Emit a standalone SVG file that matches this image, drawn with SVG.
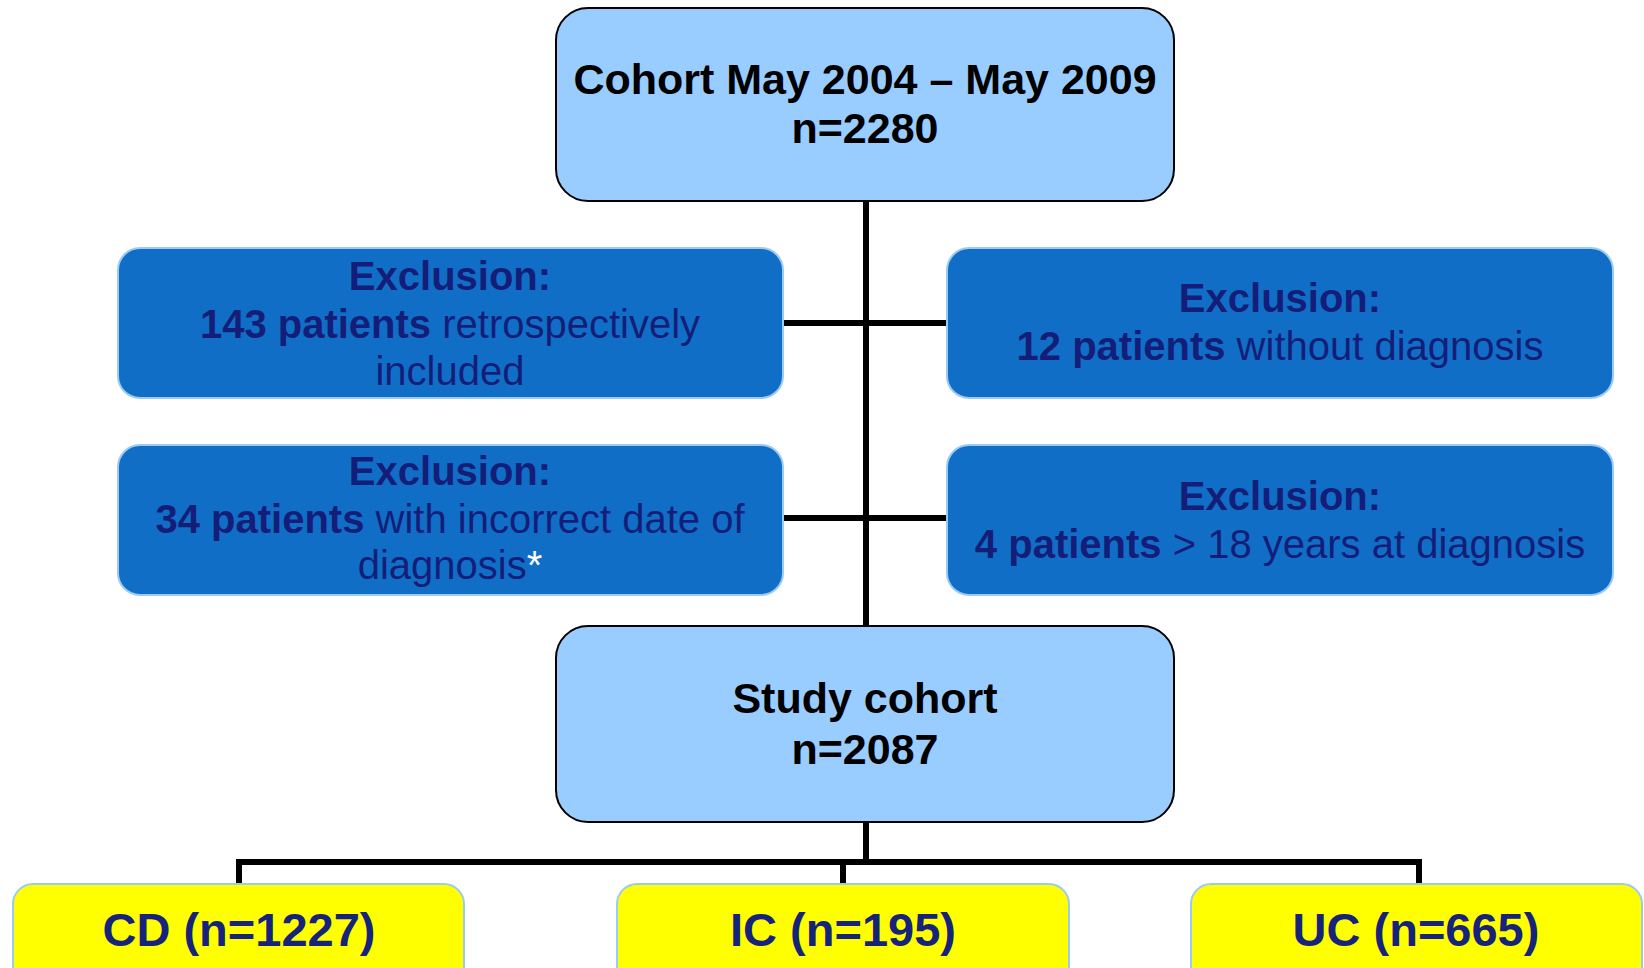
<svg xmlns="http://www.w3.org/2000/svg" width="1644" height="968" viewBox="0 0 1644 968">
<style>
  .main { fill: #99CCFF; stroke: #000000; stroke-width: 2; }
  .excl { fill: #116EC6; stroke: #9CCBF2; stroke-width: 2; }
  .grp { fill: #FFFF00; stroke: #9CCBF2; stroke-width: 2; }
  .t { font-family: "Liberation Sans", Arial, sans-serif; text-anchor: middle; }
  .tm { font-size: 43px; font-weight: bold; fill: #000000; }
  .te { font-size: 40px; fill: #141E78; }
  .tg { font-size: 47px; font-weight: bold; fill: #16237A; }
  .b { font-weight: bold; }
  .conn { stroke: #000000; stroke-width: 6; fill: none; }
</style>
<rect x="0" y="0" width="1644" height="968" fill="#FFFFFF"/>
<g id="connectors">
  <line class="conn" x1="866" y1="201" x2="866" y2="626"/>
  <line class="conn" x1="783" y1="323" x2="947" y2="323"/>
  <line class="conn" x1="783" y1="518" x2="947" y2="518"/>
  <line class="conn" x1="866" y1="822" x2="866" y2="862"/>
  <polyline class="conn" points="239,884 239,862 1419,862 1419,884"/>
  <line class="conn" x1="843" y1="862" x2="843" y2="884"/>
</g>
<g id="cohort">
  <rect class="main" x="556" y="8" width="618" height="193" rx="32"/>
  <text class="t tm" x="865" y="94">Cohort May 2004 – May 2009</text>
  <text class="t tm" x="865" y="143">n=2280</text>
</g>
<g id="excl-retro">
  <rect class="excl" x="118" y="248" width="665" height="150" rx="22"/>
  <text class="t te" x="450" y="290"><tspan class="b">Exclusion:</tspan></text>
  <text class="t te" x="450" y="338"><tspan class="b">143 patients</tspan> retrospectively</text>
  <text class="t te" x="450" y="385">included</text>
</g>
<g id="excl-nodiag">
  <rect class="excl" x="947" y="248" width="666" height="150" rx="22"/>
  <text class="t te" x="1280" y="312"><tspan class="b">Exclusion:</tspan></text>
  <text class="t te" x="1280" y="360"><tspan class="b">12 patients</tspan> without diagnosis</text>
</g>
<g id="excl-date">
  <rect class="excl" x="118" y="445" width="665" height="150" rx="22"/>
  <text class="t te" x="450" y="485"><tspan class="b">Exclusion:</tspan></text>
  <text class="t te" x="450" y="533"><tspan class="b">34 patients</tspan> with incorrect date of</text>
  <text class="t te" x="450" y="579">diagnosis<tspan fill="#FFFFFF">*</tspan></text>
</g>
<g id="excl-age">
  <rect class="excl" x="947" y="445" width="666" height="150" rx="22"/>
  <text class="t te" x="1280" y="510"><tspan class="b">Exclusion:</tspan></text>
  <text class="t te" x="1280" y="558"><tspan class="b">4 patients</tspan> &gt; 18 years at diagnosis</text>
</g>
<g id="study">
  <rect class="main" x="556" y="626" width="618" height="196" rx="32"/>
  <text class="t tm" x="865" y="713">Study cohort</text>
  <text class="t tm" x="865" y="764">n=2087</text>
</g>
<g id="cd">
  <rect class="grp" x="13" y="884" width="451" height="120" rx="20"/>
  <text class="t tg" x="239" y="946">CD (n=1227)</text>
</g>
<g id="ic">
  <rect class="grp" x="617" y="884" width="452" height="120" rx="20"/>
  <text class="t tg" x="843" y="946">IC (n=195)</text>
</g>
<g id="uc">
  <rect class="grp" x="1191" y="884" width="451" height="120" rx="20"/>
  <text class="t tg" x="1416" y="946">UC (n=665)</text>
</g>
</svg>
